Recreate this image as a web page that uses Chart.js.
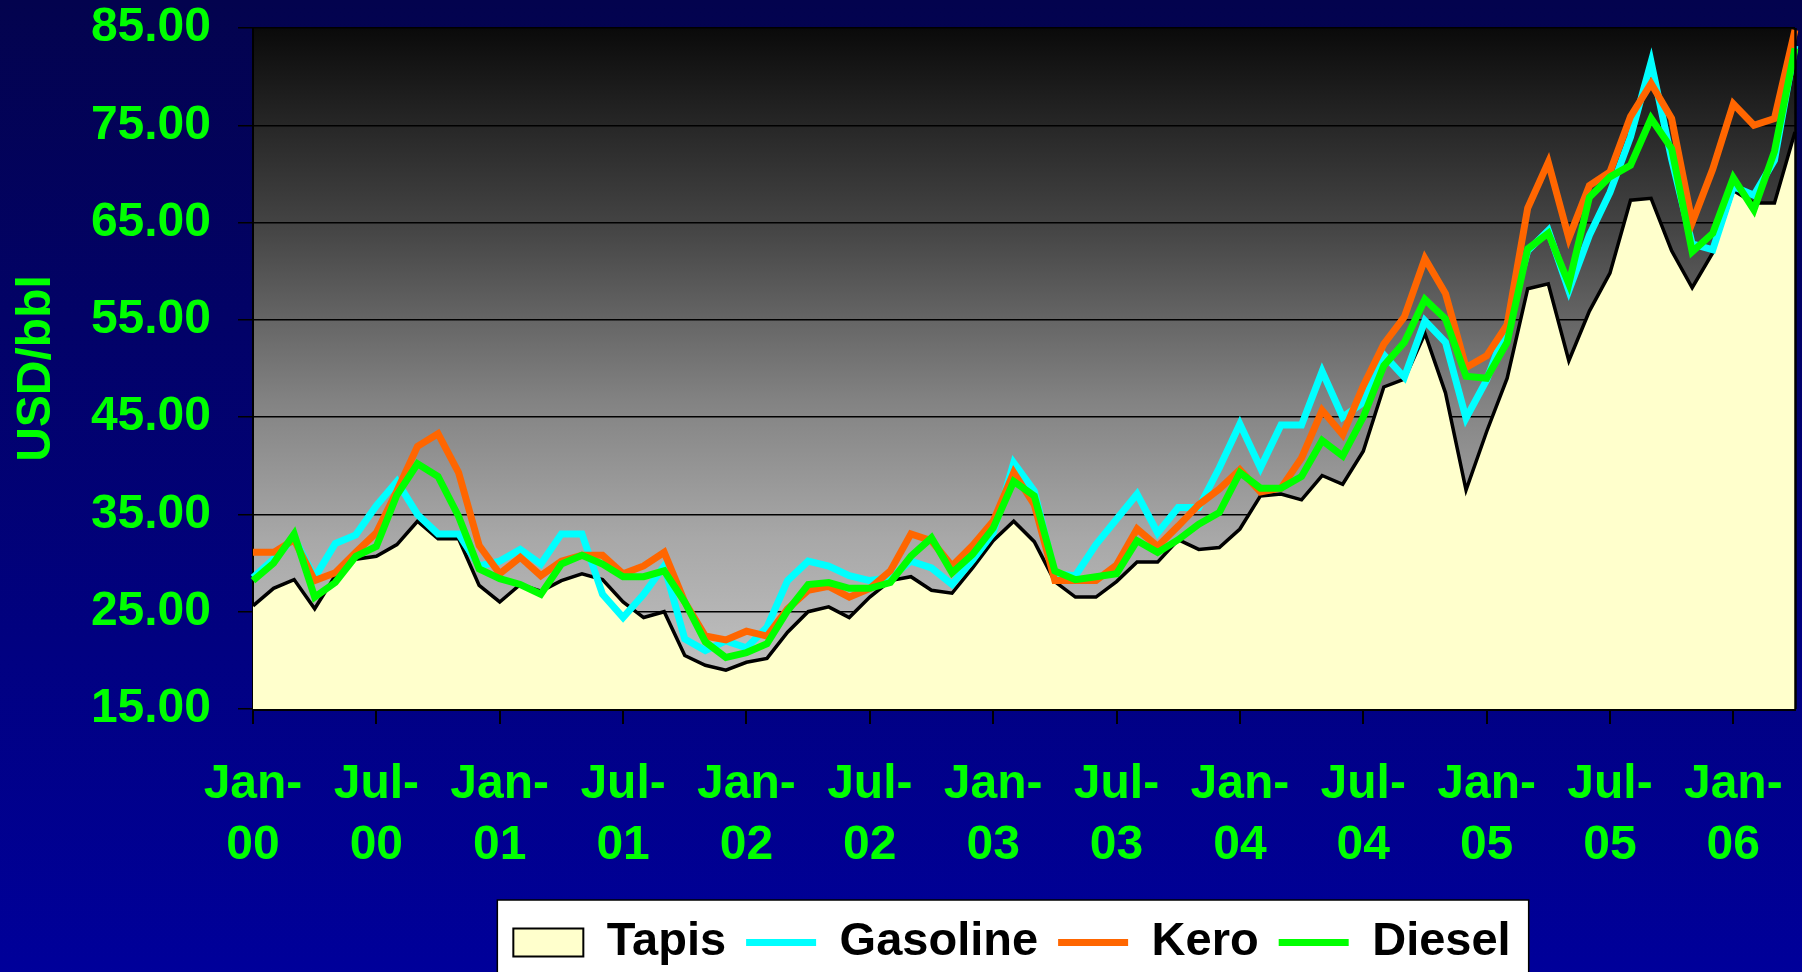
<!DOCTYPE html>
<html><head><meta charset="utf-8">
<script src="https://cdn.jsdelivr.net/npm/chart.js@4.4.1/dist/chart.umd.min.js"></script>
<style>html,body{margin:0;padding:0;background:#00007a;overflow:hidden}canvas{display:block}</style>
</head><body>
<canvas id="c" width="1802" height="972"></canvas>
<script>
const categories = [
 'Jan-00','Feb-00','Mar-00','Apr-00','May-00','Jun-00','Jul-00','Aug-00','Sep-00','Oct-00','Nov-00','Dec-00',
 'Jan-01','Feb-01','Mar-01','Apr-01','May-01','Jun-01','Jul-01','Aug-01','Sep-01','Oct-01','Nov-01','Dec-01',
 'Jan-02','Feb-02','Mar-02','Apr-02','May-02','Jun-02','Jul-02','Aug-02','Sep-02','Oct-02','Nov-02','Dec-02',
 'Jan-03','Feb-03','Mar-03','Apr-03','May-03','Jun-03','Jul-03','Aug-03','Sep-03','Oct-03','Nov-03','Dec-03',
 'Jan-04','Feb-04','Mar-04','Apr-04','May-04','Jun-04','Jul-04','Aug-04','Sep-04','Oct-04','Nov-04','Dec-04',
 'Jan-05','Feb-05','Mar-05','Apr-05','May-05','Jun-05','Jul-05','Aug-05','Sep-05','Oct-05','Nov-05','Dec-05',
 'Jan-06','Feb-06','Mar-06','Apr-06'
];
const tapis = [
 25.6,27.4,28.3,25.3,28.7,30.4,30.7,31.9,34.3,32.5,32.5,27.7,
 26.0,27.8,27.1,28.2,28.9,28.3,26.0,24.4,25.0,20.5,19.5,19.0,
 19.8,20.2,22.9,25.0,25.5,24.4,26.5,28.2,28.6,27.2,26.9,29.5,
 32.3,34.3,32.2,28.1,26.5,26.5,28.1,30.1,30.1,32.4,31.4,31.6,
 33.5,36.9,37.1,36.5,39.0,38.1,41.5,48.1,48.9,53.6,47.5,37.5,
 43.5,49.0,58.2,58.7,50.8,55.9,59.8,67.3,67.5,62.1,58.3,61.9,
 68.3,67.0,67.0,74.3
];
const gasoline = [
 28.5,30.4,32.6,28.5,32.0,32.9,35.9,38.4,35.0,33.0,33.0,29.7,
 30.2,31.4,29.9,33.0,33.0,26.8,24.4,26.8,29.7,22.2,21.0,22.0,
 21.3,23.4,28.2,30.2,29.7,28.7,28.2,28.5,30.2,29.5,27.8,30.3,
 33.1,40.3,37.4,28.9,28.7,31.9,34.5,37.1,33.1,35.7,35.7,39.8,
 44.3,39.8,44.2,44.2,49.7,45.0,46.5,51.4,49.1,54.9,52.7,44.9,
 48.8,54.5,62.1,64.2,58.0,63.7,68.1,73.8,81.5,71.5,62.8,62.2,
 68.7,67.8,71.4,83.2
];
const kero = [
 31.1,31.1,32.4,28.2,29.0,31.1,33.1,37.4,42.0,43.3,39.3,31.8,
 28.9,30.6,28.7,30.2,30.8,30.8,28.9,29.7,31.1,26.0,22.5,22.1,
 23.0,22.5,25.3,27.2,27.6,26.5,27.4,29.2,33.0,32.3,29.7,31.8,
 34.3,39.3,36.0,28.2,28.2,28.2,29.8,33.5,31.7,33.8,36.0,37.6,
 39.6,37.3,37.7,40.8,45.7,43.2,48.2,52.5,55.3,61.3,57.7,50.1,
 51.3,54.5,66.5,71.2,63.4,68.8,70.2,75.9,79.3,75.7,65.0,70.5,
 77.2,75.0,75.7,84.8
];
const diesel = [
 28.2,30.0,33.0,26.5,28.0,30.7,31.7,37.0,40.2,38.9,34.8,29.4,
 28.4,27.8,26.8,29.9,30.8,29.9,28.6,28.6,29.2,26.0,21.9,20.3,
 20.8,21.7,25.1,27.8,28.0,27.4,27.4,28.0,30.7,32.6,29.0,30.9,
 33.6,38.4,36.9,29.2,28.3,28.6,28.9,32.3,31.1,32.4,34.0,35.2,
 39.3,37.7,37.7,38.9,42.6,41.0,45.0,50.3,52.7,57.1,55.1,49.2,
 49.0,52.7,62.3,63.9,58.7,67.6,69.7,70.9,75.7,72.6,62.0,63.9,
 69.6,66.3,72.3,82.9
];
const yTicks = [15,25,35,45,55,65,75,85];
const seriesNames = ['Tapis','Gasoline','Kero','Diesel'];

const FONT = "'Liberation Sans', Arial, Helvetica, sans-serif";
const GREEN = '#00ff00';

const bgPlugin = {
  id: 'bg',
  afterLayout(chart) {
    const lg = chart.legend;
    if (lg) { lg.left -= 12; lg.right -= 12; }
  },
  beforeDraw(chart) {
    const {ctx, width, height, chartArea: a} = chart;
    ctx.save();
    let g = ctx.createLinearGradient(0, 0, 0, height);
    g.addColorStop(0, '#03034e');
    g.addColorStop(1, '#00009a');
    ctx.fillStyle = g;
    ctx.fillRect(0, 0, width, height);
    g = ctx.createLinearGradient(0, a.top, 0, a.bottom);
    g.addColorStop(0, '#0a0a0a');
    g.addColorStop(0.3, '#464646');
    g.addColorStop(0.55, '#838383');
    g.addColorStop(0.75, '#a8a8a8');
    g.addColorStop(1, '#c6c6c6');
    ctx.fillStyle = g;
    ctx.fillRect(a.left, a.top, a.right - a.left, a.bottom - a.top);
    const lg = chart.legend;
    if (lg && lg.legendHitBoxes && lg.legendHitBoxes.length) {
      const hb = lg.legendHitBoxes;
      const last = hb[hb.length - 1];
      const l = hb[0].left - 16;
      const r = last.left + last.width + 18;
      const t = lg.top + 1;
      ctx.fillStyle = '#ffffff';
      ctx.fillRect(l, t, r - l, height - t + 5);
      ctx.strokeStyle = '#000';
      ctx.lineWidth = 1.5;
      ctx.strokeRect(l, t, r - l, height - t + 5);
    }
    ctx.restore();
  },
  afterDatasetsDraw(chart) {
    const {ctx, chartArea: a} = chart;
    ctx.save();
    ctx.strokeStyle = '#000';
    ctx.lineWidth = 2.5;
    ctx.beginPath();
    ctx.moveTo(a.right + 0.5, a.top);
    ctx.lineTo(a.right + 0.5, a.bottom);
    ctx.stroke();
    ctx.restore();
  }
};

const lineDs = (label, data, color, order) => ({
  label, data, borderColor: color, backgroundColor: color, borderWidth: 7,
  fill: false, pointRadius: 0, pointHoverRadius: 0, tension: 0, order
});

new Chart(document.getElementById('c'), {
  type: 'line',
  data: {
    labels: categories,
    datasets: [
      { label: seriesNames[0], data: tapis, borderColor: '#000000', backgroundColor: '#ffffcc',
        borderWidth: 3.5, fill: 'start', pointRadius: 0, pointHoverRadius: 0, tension: 0, order: 4 },
      lineDs(seriesNames[1], gasoline, '#00ffff', 3),
      lineDs(seriesNames[2], kero, '#ff6600', 2),
      lineDs(seriesNames[3], diesel, '#00ff00', 1)
    ]
  },
  plugins: [bgPlugin],
  options: {
    responsive: false,
    devicePixelRatio: 1,
    animation: false,
    layout: { padding: { top: 28, right: 7, left: 0, bottom: -4 } },
    scales: {
      x: {
        type: 'category',
        offset: false,
        afterBuildTicks: s => { s.ticks = s.ticks.filter(t => t.value % 6 === 0); },
        afterFit: s => { s.height = 190; s.paddingLeft = 0; s.paddingRight = 0; },
        ticks: {
          autoSkip: false, maxRotation: 0, minRotation: 0, padding: 30,
          color: GREEN,
          font: { family: FONT, size: 48, weight: 'bold', lineHeight: 1.27 },
          callback: function (v) { const s = this.getLabelForValue(v); return [s.slice(0, 4), s.slice(4)]; }
        },
        grid: { drawOnChartArea: false, drawTicks: true, tickLength: 15, color: '#000', lineWidth: 2 },
        border: { color: '#000', width: 3 }
      },
      y: {
        min: 15, max: 85,
        afterBuildTicks: s => { s.ticks = yTicks.map(v => ({ value: v })); },
        afterFit: s => { s.width = 253; s.paddingTop = 0; s.paddingBottom = 0; },
        ticks: {
          color: GREEN, padding: 27,
          font: { family: FONT, size: 48, weight: 'bold' },
          callback: v => Number(v).toFixed(2)
        },
        grid: { color: '#000', lineWidth: 1.5, tickLength: 15, drawTicks: true },
        border: { color: '#000', width: 2 },
        title: {
          display: true, text: 'USD/bbl', color: GREEN,
          font: { family: FONT, size: 48, weight: 'bold' },
          padding: { top: 8, bottom: 0 }
        }
      }
    },
    plugins: {
      tooltip: { enabled: false },
      legend: {
        display: true,
        position: 'bottom',
        fullSize: false,
        labels: {
          usePointStyle: true,
          pointStyleWidth: 70,
          boxHeight: 28,
          padding: 20,
          color: '#000',
          font: { family: FONT, size: 47, weight: 'bold' },
          generateLabels: chart => chart.data.datasets.map((ds, i) => ({
            text: ds.label,
            fillStyle: i === 0 ? '#ffffcc' : ds.borderColor,
            strokeStyle: i === 0 ? '#000000' : ds.borderColor,
            lineWidth: i === 0 ? 2 : 7,
            pointStyle: i === 0 ? 'rect' : 'line',
            hidden: false,
            datasetIndex: i,
            fontColor: '#000'
          }))
        }
      }
    }
  }
});
</script>
</body></html>
